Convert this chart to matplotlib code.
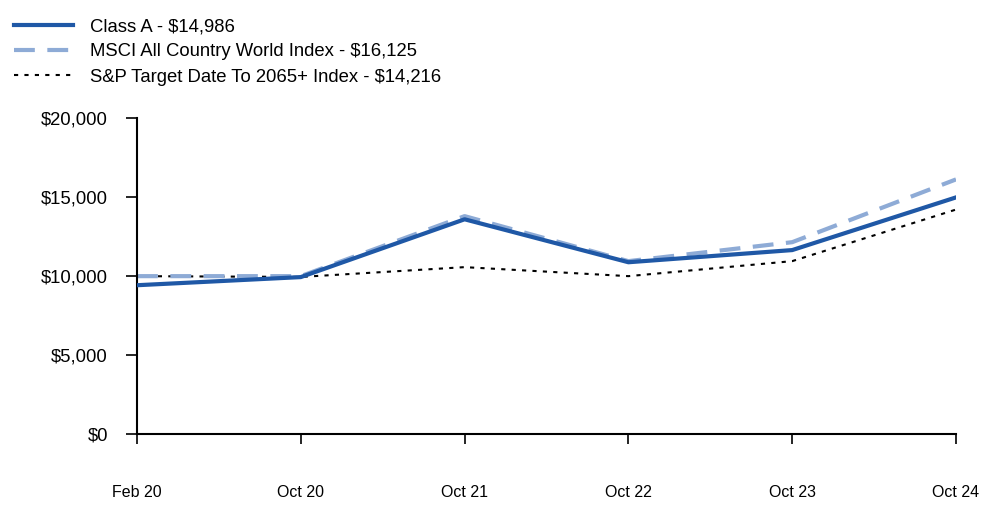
import matplotlib.pyplot as plt
import numpy as np

plt.rcParams['font.family'] = ['Liberation Sans', 'DejaVu Sans']

# Data
dates = ['Feb 20', 'Oct 20', 'Oct 21', 'Oct 22', 'Oct 23', 'Oct 24']
class_a = [9425, 9940, 13600, 10880, 11650, 14986]
msci = [10000, 10000, 13800, 10950, 12150, 16125]
sp_target = [10000, 9950, 10570, 10000, 10950, 14216]

x = np.arange(len(dates))

fig = plt.figure(figsize=(10, 5.23), dpi=100)
ax = fig.add_axes([0.137, 0.170, 0.819, 0.604])

ax.plot(x, class_a, color='#1f58a6', lw=3, label='Class A - $14,986', zorder=3)
ax.plot(x, msci, color='#8eabd6', lw=3, dashes=(5, 3), label='MSCI All Country World Index - $16,125', zorder=2)
ax.plot(x, sp_target, color='black', lw=1.5, dashes=(2, 3), label='S&P Target Date To 2065+ Index - $14,216', zorder=1)

ax.set_xlim(0, len(dates) - 1)
ax.set_ylim(0, 20000)
ax.set_yticks([0, 5000, 10000, 15000, 20000])
ax.set_yticklabels(['$0', '$5,000', '$10,000', '$15,000', '$20,000'], fontsize=13.3)
ax.set_xticks(x)
ax.set_xticklabels(dates, fontsize=11.5)
ax.tick_params(axis='y', length=8, width=1.2, pad=13)
ax.tick_params(axis='x', length=7, width=1.2, pad=30)

for s in ['top', 'right']:
    ax.spines[s].set_visible(False)
ax.spines['left'].set_linewidth(1.5)
ax.spines['bottom'].set_linewidth(1.5)

fig.legend(loc='upper left', bbox_to_anchor=(0.0066, 0.979), frameon=False,
           borderaxespad=0, fontsize=13.3, handlelength=3.2, handletextpad=0.9,
           labelspacing=0.44)

fig.savefig('out.png', dpi=100)
